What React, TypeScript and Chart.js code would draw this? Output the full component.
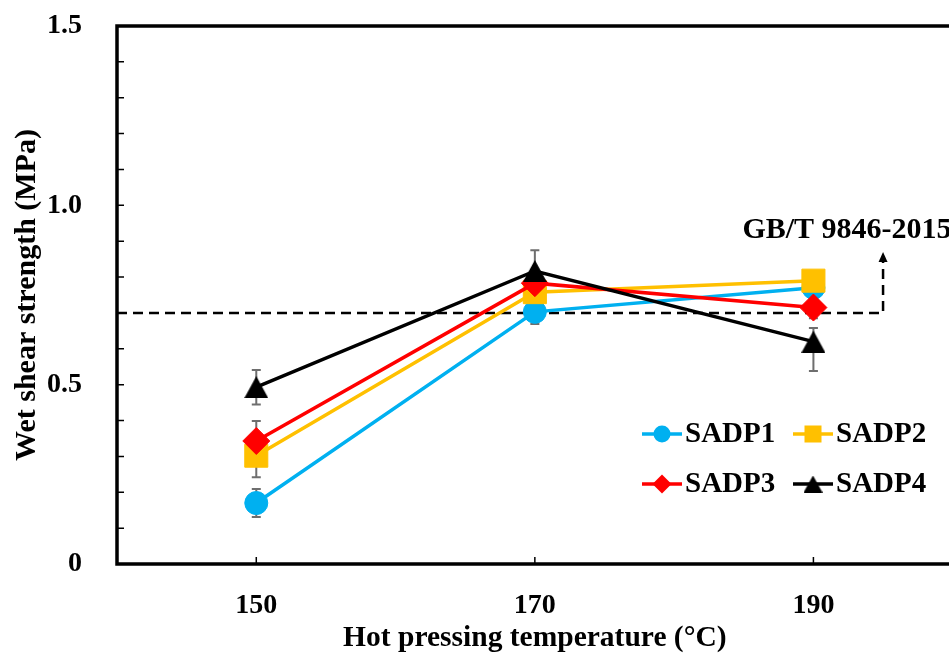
import React, { useEffect, useRef } from "react";
import { Chart, registerables } from "chart.js";

Chart.register(...registerables);

// ---------- data ----------
const temperatures = [150, 170, 190];
const seriesNames = ["SADP1", "SADP2", "SADP3", "SADP4"];
const sadp1 = [0.17, 0.703, 0.77];
const sadp2 = [0.302, 0.758, 0.79];
const sadp3 = [0.343, 0.783, 0.715];
const sadp4 = [0.493, 0.817, 0.62];
const sadp1ErrPlus = [0.039, 0.03, 0.02];
const sadp1ErrMinus = [0.039, 0.034, 0.02];
const sadp2ErrPlus = [0.06, 0.03, 0.02];
const sadp2ErrMinus = [0.06, 0.03, 0.02];
const sadp3ErrPlus = [0.056, 0.03, 0.03];
const sadp3ErrMinus = [0.056, 0.03, 0.03];
const sadp4ErrPlus = [0.048, 0.058, 0.038];
const sadp4ErrMinus = [0.048, 0.03, 0.082];
const xTickValues = [150, 170, 190];
const yLabelValues = [0, 0.5, 1.0, 1.5];
const yTickLabels = ["0", "0.5", "1.0", "1.5"];
const standardValue = 0.7;
const standardLabel = "GB/T 9846-2015";
const xTitle = "Hot pressing temperature (°C)";
const yTitle = "Wet shear strength (MPa)";

const seriesValues = [sadp1, sadp2, sadp3, sadp4];
const errPlus = [sadp1ErrPlus, sadp2ErrPlus, sadp3ErrPlus, sadp4ErrPlus];
const errMinus = [sadp1ErrMinus, sadp2ErrMinus, sadp3ErrMinus, sadp4ErrMinus];
const colors = ["#00B0F0", "#FFC000", "#FF0000", "#000000"];
const FONT = "'Liberation Serif', 'Times New Roman', serif";

function makeTriangle(w: number, h: number, color: string) {
  const c = document.createElement("canvas");
  c.width = w;
  c.height = h;
  const ctx = c.getContext("2d")!;
  ctx.fillStyle = color;
  ctx.beginPath();
  ctx.moveTo(w / 2, 0);
  ctx.lineTo(w, h);
  ctx.lineTo(0, h);
  ctx.closePath();
  ctx.fill();
  return c;
}

export default function App() {
  const ref = useRef<HTMLCanvasElement | null>(null);

  useEffect(() => {
    if (!ref.current) return;
    const tri = makeTriangle(24, 22, "#000000");
    const triSmall = makeTriangle(19, 17, "#000000");
    const pointStyles: any[] = ["circle", "rect", "rectRot", tri];
    const radii = [11.5, 16.3, 13.5, 12];

    const decor = {
      id: "decor",
      beforeDatasetsDraw(chart: any) {
        const { ctx, scales } = chart;
        const xs = scales.x;
        const ys = scales.y;
        ctx.save();
        // dashed standard line with arrow
        ctx.strokeStyle = "#000";
        ctx.lineWidth = 2.5;
        ctx.setLineDash([10, 6]);
        const x0 = xs.getPixelForValue(140);
        const x1 = xs.getPixelForValue(195);
        const y0 = ys.getPixelForValue(standardValue);
        const yTip = ys.getPixelForValue(0.87);
        ctx.beginPath();
        ctx.moveTo(x0, y0);
        ctx.lineTo(x1, y0);
        ctx.lineTo(x1, yTip + 9);
        ctx.stroke();
        ctx.setLineDash([]);
        ctx.fillStyle = "#000";
        ctx.beginPath();
        ctx.moveTo(x1, yTip);
        ctx.lineTo(x1 + 4.5, yTip + 10);
        ctx.lineTo(x1 - 4.5, yTip + 10);
        ctx.closePath();
        ctx.fill();
        // error bars
        ctx.strokeStyle = "#6e6e6e";
        ctx.lineWidth = 2;
        seriesValues.forEach((vals, si) => {
          vals.forEach((v, i) => {
            const px = xs.getPixelForValue(temperatures[i]);
            const top = ys.getPixelForValue(v + errPlus[si][i]);
            const bot = ys.getPixelForValue(v - errMinus[si][i]);
            ctx.beginPath();
            ctx.moveTo(px, top);
            ctx.lineTo(px, bot);
            ctx.moveTo(px - 4.5, top);
            ctx.lineTo(px + 4.5, top);
            ctx.moveTo(px - 4.5, bot);
            ctx.lineTo(px + 4.5, bot);
            ctx.stroke();
          });
        });
        ctx.restore();
      },
      afterDraw(chart: any) {
        const { ctx, scales, chartArea } = chart;
        const xs = scales.x;
        const ys = scales.y;
        const { left, right, top, bottom } = chartArea;
        ctx.save();
        ctx.strokeStyle = "#000";
        ctx.lineWidth = 3.5;
        ctx.lineCap = "square";
        ctx.beginPath();
        ctx.moveTo(left, top);
        ctx.lineTo(right, top);
        ctx.lineTo(right, bottom);
        ctx.lineTo(left, bottom);
        ctx.closePath();
        ctx.stroke();
        ctx.lineCap = "butt";
        ctx.lineWidth = 1.5;
        ctx.beginPath();
        for (let k = 1; k < 15; k++) {
          const py = ys.getPixelForValue(k / 10);
          ctx.moveTo(left, py);
          ctx.lineTo(left + 7, py);
        }
        xTickValues.forEach((t) => {
          const px = xs.getPixelForValue(t);
          ctx.moveTo(px, bottom);
          ctx.lineTo(px, bottom - 7);
        });
        ctx.stroke();

        // standard label
        ctx.fillStyle = "#000";
        ctx.font = `bold 30px ${FONT}`;
        ctx.textAlign = "left";
        ctx.textBaseline = "middle";
        ctx.fillText(standardLabel, xs.getPixelForValue(184.9), ys.getPixelForValue(0.93));

        // legend
        const items = [
          { x: 642, y: 434 },
          { x: 793, y: 434 },
          { x: 642, y: 484 },
          { x: 793, y: 484 },
        ];
        items.forEach((it, i) => {
          const c = colors[i];
          ctx.strokeStyle = c;
          ctx.fillStyle = c;
          ctx.lineWidth = 3.5;
          ctx.beginPath();
          ctx.moveTo(it.x, it.y);
          ctx.lineTo(it.x + 40, it.y);
          ctx.stroke();
          const mx = it.x + 20;
          const my = it.y;
          ctx.beginPath();
          if (i === 0) {
            ctx.arc(mx, my, 8.5, 0, Math.PI * 2);
            ctx.fill();
          } else if (i === 1) {
            ctx.fillRect(mx - 8.5, my - 8.5, 17, 17);
          } else if (i === 2) {
            ctx.moveTo(mx - 9.5, my);
            ctx.lineTo(mx, my - 9.5);
            ctx.lineTo(mx + 9.5, my);
            ctx.lineTo(mx, my + 9.5);
            ctx.closePath();
            ctx.fill();
          } else {
            ctx.drawImage(triSmall, mx - 9.5, my - 8.5);
          }
          ctx.fillStyle = "#000";
          ctx.font = `bold 29px ${FONT}`;
          ctx.textAlign = "left";
          ctx.textBaseline = "middle";
          ctx.fillText(seriesNames[i], it.x + 43, it.y + 1);
        });
        ctx.restore();
      },
    };

    const chart = new Chart(ref.current, {
      type: "line",
      data: {
        datasets: seriesNames.map((name, si) => ({
          label: name,
          data: temperatures.map((t, i) => ({ x: t, y: seriesValues[si][i] })),
          borderColor: colors[si],
          backgroundColor: colors[si],
          borderWidth: 3.5,
          pointStyle: pointStyles[si],
          pointRadius: radii[si],
          pointBorderWidth: 1,
          pointBorderColor: colors[si],
          pointBackgroundColor: colors[si],
          order: 4 - si,
          tension: 0,
        })),
      },
      options: {
        responsive: false,
        animation: false,
        events: [],
        layout: { padding: { top: 26, right: 8, left: 0, bottom: 0 } },
        plugins: {
          legend: { display: false },
          tooltip: { enabled: false },
        },
        scales: {
          x: {
            type: "linear",
            min: 140,
            max: 200,
            grid: { display: false, drawTicks: false },
            border: { display: false },
            afterBuildTicks: (axis: any) => {
              axis.ticks = xTickValues.map((v) => ({ value: v }));
            },
            afterFit: (axis: any) => {
              axis.height = 93;
              axis.paddingLeft = 0;
              axis.paddingRight = 0;
            },
            ticks: {
              padding: 25,
              color: "#000",
              font: { family: FONT, size: 28, weight: "bold" },
              callback: (v: any) => String(v),
            },
            title: {
              display: true,
              text: xTitle,
              color: "#000",
              font: { family: FONT, size: 29.5, weight: "bold" },
              padding: { top: 0, bottom: 1 },
            },
          },
          y: {
            type: "linear",
            min: 0,
            max: 1.5,
            grid: { display: false, drawTicks: false },
            border: { display: false },
            afterBuildTicks: (axis: any) => {
              axis.ticks = yLabelValues.map((v) => ({ value: v }));
            },
            afterFit: (axis: any) => {
              axis.width = 117;
              axis.paddingTop = 0;
              axis.paddingBottom = 0;
            },
            ticks: {
              padding: 35,
              color: "#000",
              font: { family: FONT, size: 28, weight: "bold" },
              callback: (v: any) => {
                const idx = yLabelValues.findIndex((l) => Math.abs(l - Number(v)) < 1e-6);
                return idx >= 0 ? yTickLabels[idx] : "";
              },
            },
            title: {
              display: true,
              text: yTitle,
              color: "#000",
              font: { family: FONT, size: 30, weight: "bold" },
              padding: { top: 9, bottom: 0 },
            },
          },
        },
      },
      plugins: [decor],
    } as any);

    return () => chart.destroy();
  }, []);

  return (
    <div
      style={{
        position: "absolute",
        left: 0,
        top: 0,
        width: 949,
        height: 657,
        overflow: "hidden",
        background: "#fff",
      }}
    >
      <canvas ref={ref} width={970} height={657} style={{ display: "block" }} />
    </div>
  );
}
